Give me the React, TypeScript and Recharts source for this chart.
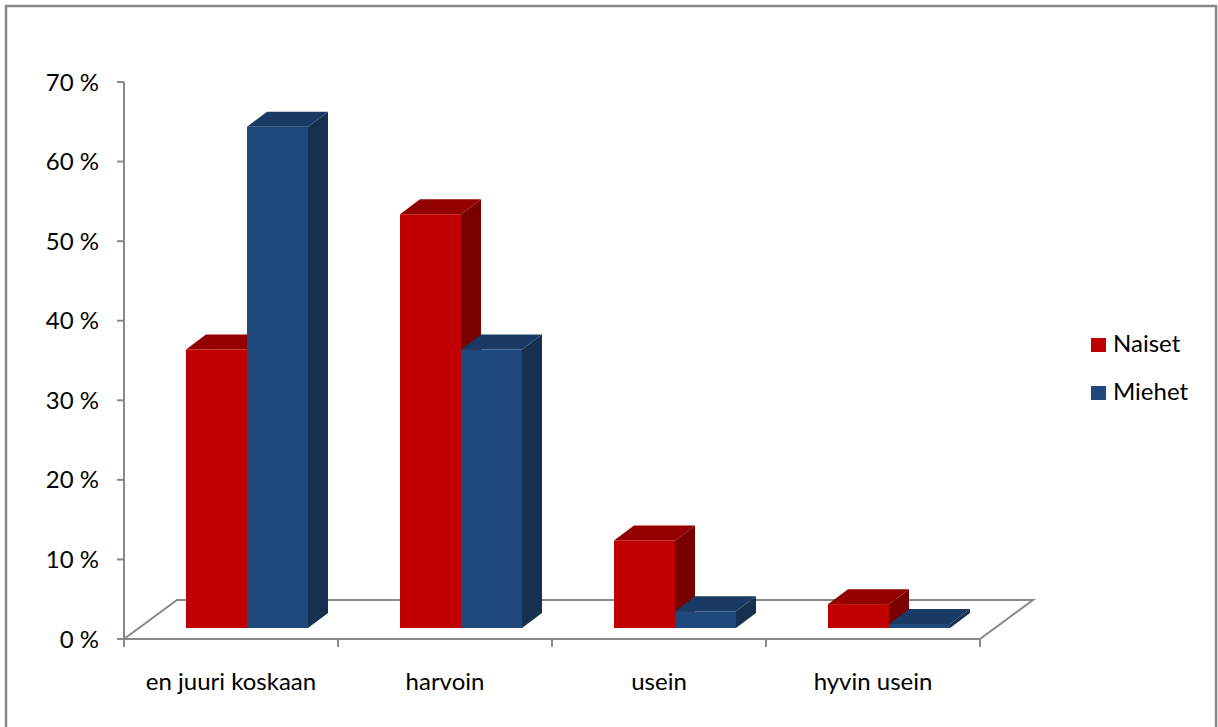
import React from "react";
import { BarChart, Bar, XAxis, YAxis, Customized } from "recharts";

const categories = ["en juuri koskaan", "harvoin", "usein", "hyvin usein"];
const naiset = [0.35, 0.52, 0.11, 0.03];
const miehet = [0.63, 0.35, 0.021, 0.005];
const seriesNames = ["Naiset", "Miehet"];
const yTicks = [0, 0.1, 0.2, 0.3, 0.4, 0.5, 0.6, 0.7];

const data = categories.map((c, i) => ({ name: c, Naiset: naiset[i], Miehet: miehet[i] }));

const W = 1218;
const H = 727;
const PLOT_LEFT = 124;
const PLOT_RIGHT = 980;
const PLOT_TOP = 82;
const PLOT_BOTTOM = 639;
const X_AXIS_H = 30;
const FONT = "Lato, 'Liberation Sans', sans-serif";
const GREY = "#898989";

// oblique 3d offsets
const SHIFT_X = 16;
const SHIFT_Y = 11;
const DEPTH_X = 20;
const DEPTH_Y = 15;
const FLOOR_X = 53;
const FLOOR_Y = 39;

const palette = {
  Naiset: { front: "#c00000", top: "#920000", side: "#7a0000" },
  Miehet: { front: "#1f497d", top: "#193a64", side: "#16304f" },
};

function make3DBar(c: { front: string; top: string; side: string }) {
  return (props: any) => {
    const { x, y, width, height } = props;
    if (x == null || y == null) return null;
    const fx = x + SHIFT_X;
    const fy = y - SHIFT_Y;
    const h = Math.max(height, 0);
    return (
      <g>
        <polygon
          points={`${fx + width},${fy} ${fx + width + DEPTH_X},${fy - DEPTH_Y} ${fx + width + DEPTH_X},${fy - DEPTH_Y + h} ${fx + width},${fy + h}`}
          fill={c.side}
        />
        <polygon
          points={`${fx},${fy} ${fx + DEPTH_X},${fy - DEPTH_Y} ${fx + width + DEPTH_X},${fy - DEPTH_Y} ${fx + width},${fy}`}
          fill={c.top}
        />
        <rect x={fx} y={fy} width={width} height={h} fill={c.front} />
      </g>
    );
  };
}

const Floor = () => {
  const band = (PLOT_RIGHT - PLOT_LEFT) / categories.length;
  const ticks = [];
  for (let i = 0; i <= categories.length; i++) {
    const tx = PLOT_LEFT + band * i;
    ticks.push(<line key={i} x1={tx} y1={PLOT_BOTTOM} x2={tx} y2={PLOT_BOTTOM + 8} stroke={GREY} strokeWidth={2} />);
  }
  return (
    <g>
      <rect x={6} y={6} width={1210} height={740} fill="none" stroke="#878787" strokeWidth={2.5} />
      <polyline
        points={`${PLOT_LEFT},${PLOT_BOTTOM} ${PLOT_LEFT + FLOOR_X},${PLOT_BOTTOM - FLOOR_Y} ${PLOT_RIGHT + FLOOR_X},${PLOT_BOTTOM - FLOOR_Y} ${PLOT_RIGHT},${PLOT_BOTTOM}`}
        fill="none"
        stroke={GREY}
        strokeWidth={2}
      />
      <line x1={PLOT_LEFT} y1={PLOT_BOTTOM} x2={PLOT_RIGHT} y2={PLOT_BOTTOM} stroke={GREY} strokeWidth={2} />
      {ticks}
    </g>
  );
};

const LegendBox = () => (
  <g>
    {seriesNames.map((s, i) => (
      <g key={s}>
        <rect x={1091} y={338 + i * 48} width={15} height={14} fill={palette[s as keyof typeof palette].front} />
        <text x={1113} y={352 + i * 48} fontSize={24} fontFamily={FONT} fill="#000">
          {s}
        </text>
      </g>
    ))}
  </g>
);

const CategoryTick = (props: any) => {
  const { x, payload } = props;
  return (
    <text x={x} y={690} textAnchor="middle" fontSize={24} fontFamily={FONT} fill="#000">
      {payload.value}
    </text>
  );
};

export default function App() {
  return (
    <div style={{ position: "absolute", left: 0, top: 0, width: W, height: H, background: "#fff" }}>
      <BarChart
        width={W}
        height={H}
        data={data}
        margin={{ top: PLOT_TOP, right: W - PLOT_RIGHT, bottom: H - PLOT_BOTTOM - X_AXIS_H, left: 0 }}
        barSize={61}
        barGap={0}
      >
        <Customized component={Floor} />
        <XAxis dataKey="name" height={X_AXIS_H} axisLine={false} tickLine={false} tick={<CategoryTick />} interval={0} />
        <YAxis
          width={PLOT_LEFT}
          domain={[0, 0.7]}
          ticks={yTicks}
          interval={0}
          tickFormatter={(v: number) => `${Math.round(v * 100)} %`}
          axisLine={{ stroke: GREY, strokeWidth: 2 }}
          tickLine={{ stroke: GREY, strokeWidth: 2 }}
          tickSize={7}
          tickMargin={18}
          tick={{ fontSize: 24, fontFamily: FONT, fill: "#000" }}
        />
        <Bar dataKey="Naiset" isAnimationActive={false} shape={make3DBar(palette.Naiset)} />
        <Bar dataKey="Miehet" isAnimationActive={false} shape={make3DBar(palette.Miehet)} />
        <Customized component={LegendBox} />
      </BarChart>
    </div>
  );
}
